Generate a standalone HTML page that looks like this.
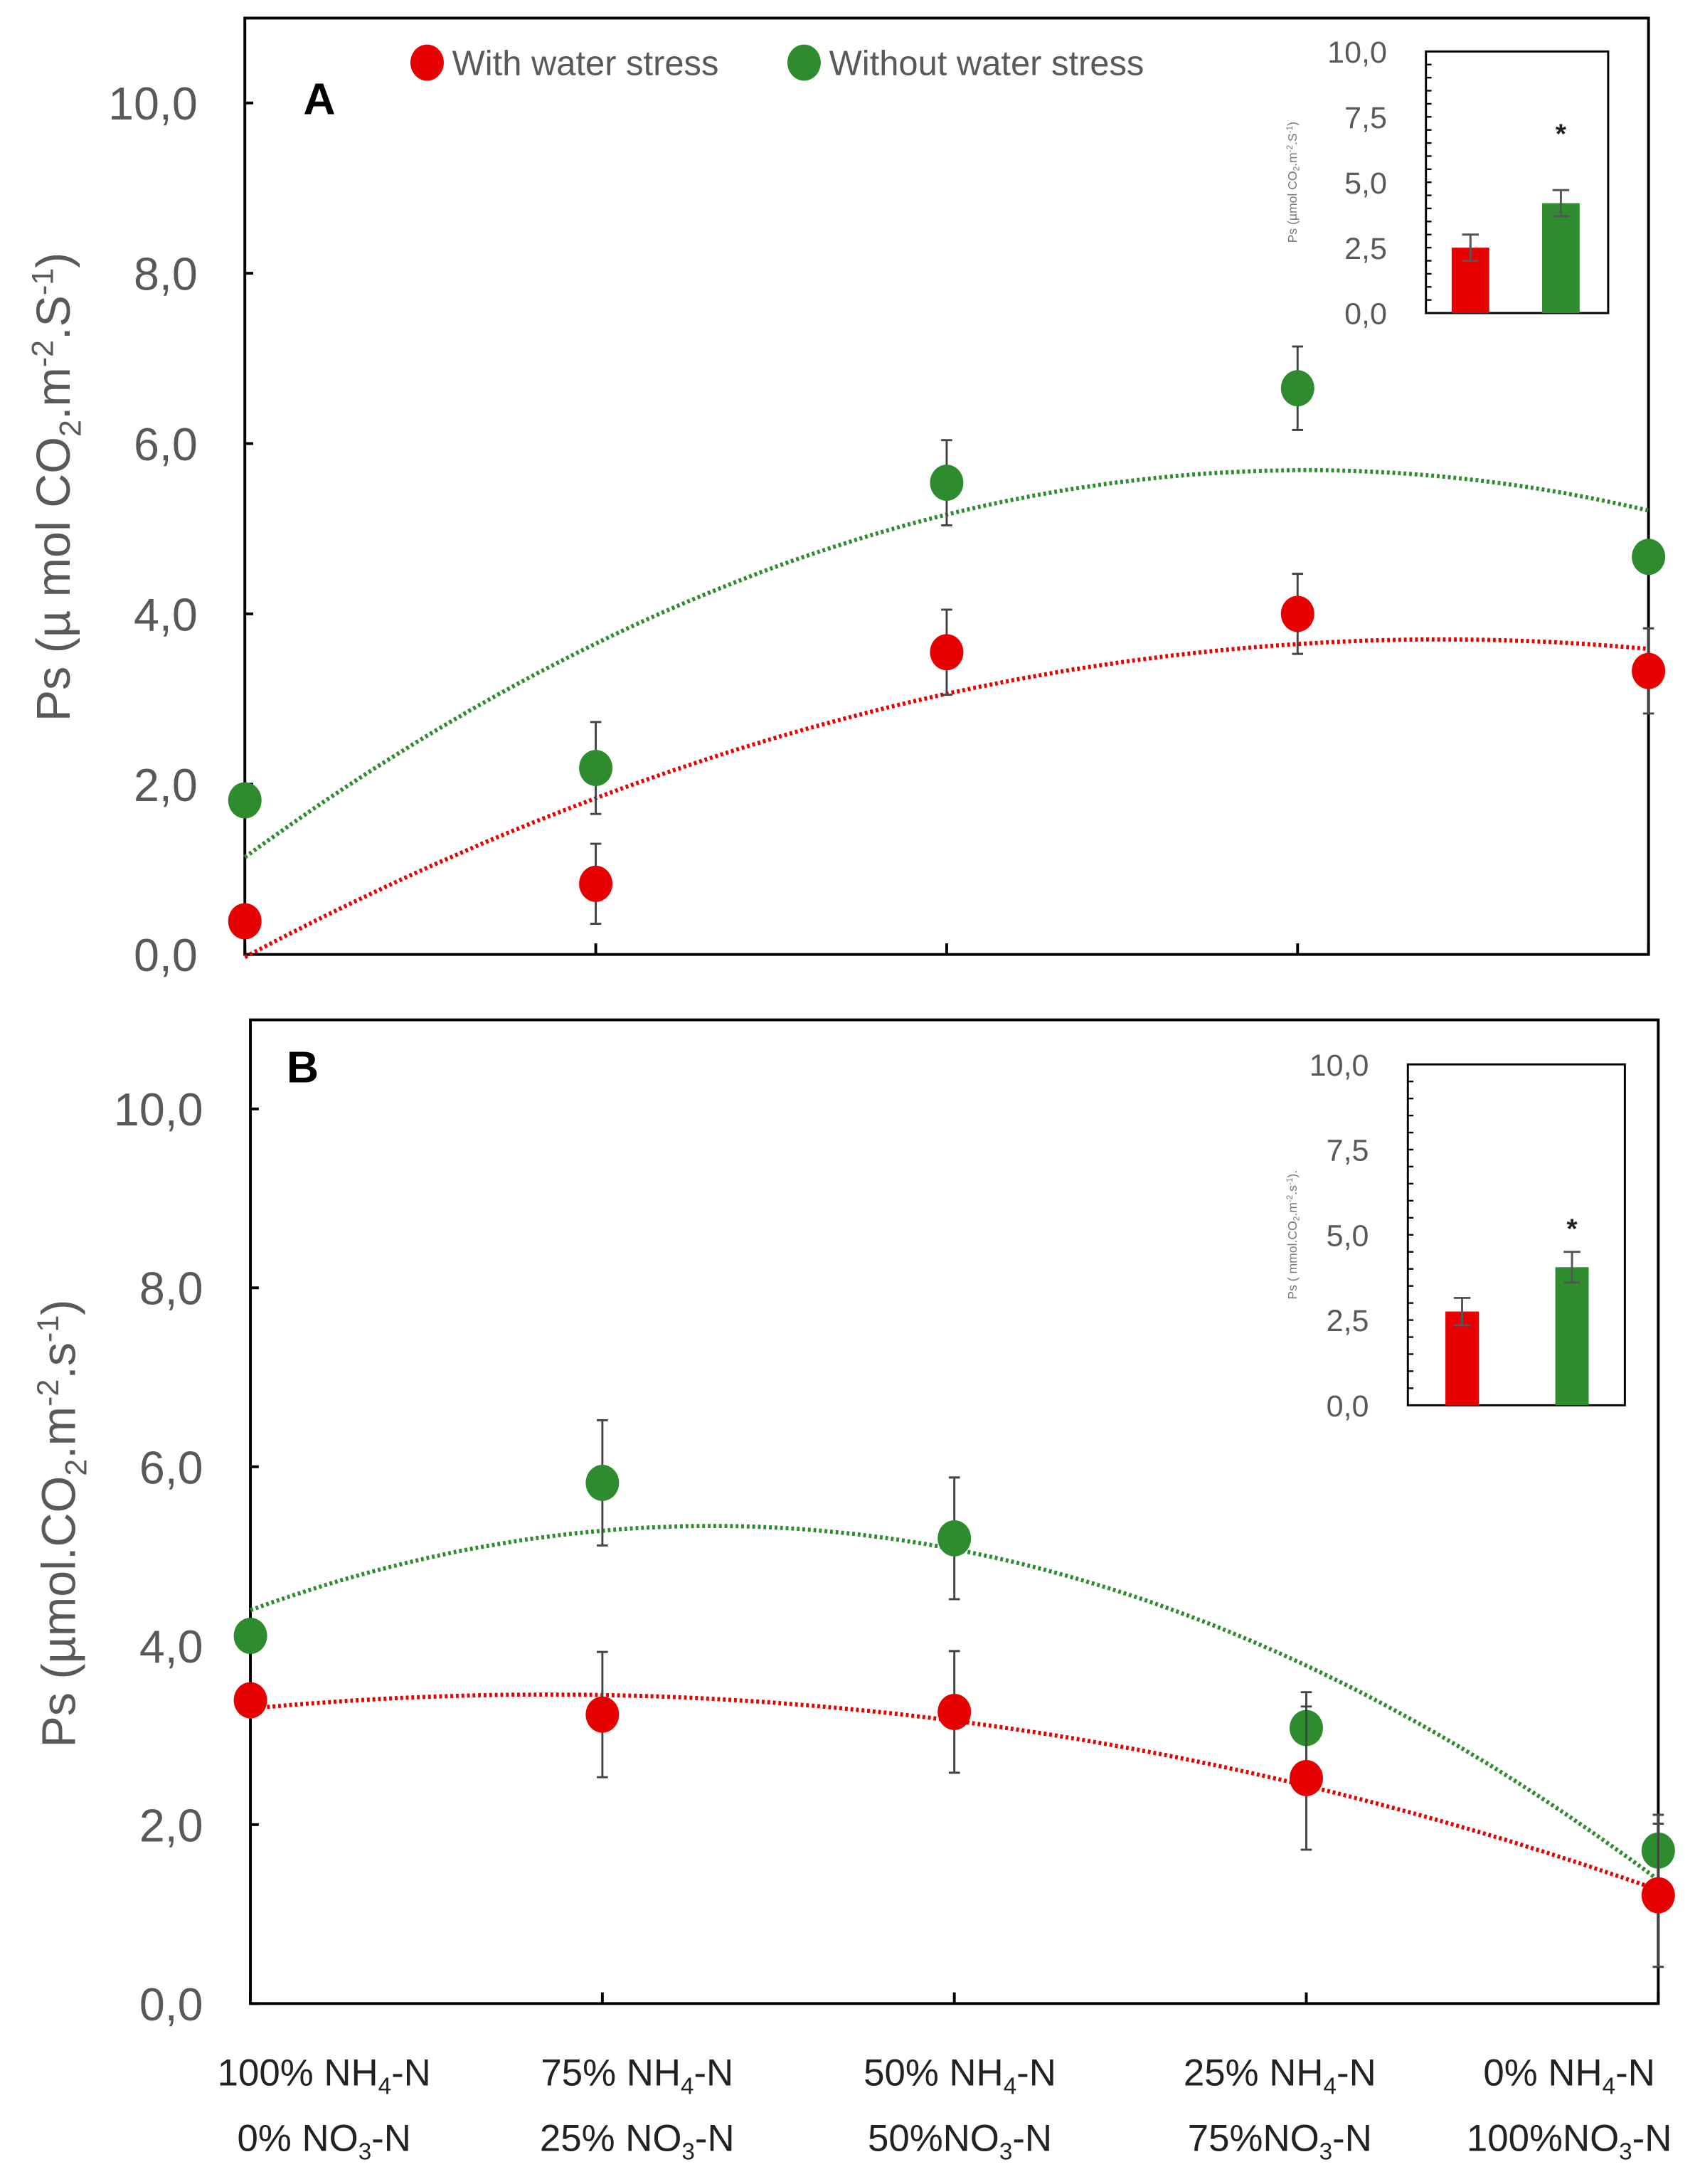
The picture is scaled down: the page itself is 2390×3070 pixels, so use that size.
<!DOCTYPE html>
<html><head><meta charset="utf-8">
<style>
html,body{margin:0;padding:0;background:#fff;}
svg{display:block;}
text{font-family:"Liberation Sans",sans-serif;}
</style></head>
<body>
<svg id="fig" width="2390" height="3070" viewBox="0 0 1222 1569.7" xmlns="http://www.w3.org/2000/svg">
</svg>
<script>
// ---- data ----
const categories = ["100% NH4-N / 0% NO3-N","75% NH4-N / 25% NO3-N","50% NH4-N / 50%NO3-N","25% NH4-N / 75%NO3-N","0% NH4-N / 100%NO3-N"];
const yTicks = [0,2,4,6,8,10];
const yTickLabels = ["0,0","2,0","4,0","6,0","8,0","10,0"];
const insetTicks = [0,2.5,5,7.5,10];
const insetTickLabels = ["0,0","2,5","5,0","7,5","10,0"];
const aStress = [0.39,0.83,3.55,4.0,3.33];
const aStressErr = [0,0.47,0.5,0.47,0.5];
const aNoStress = [1.81,2.19,5.54,6.65,4.67];
const aNoStressErr = [0,0.54,0.5,0.49,0.1];
const bStress = [3.39,3.23,3.26,2.52,1.21];
const bStressErr = [0,0.7,0.68,0.8,0.8];
const bNoStress = [4.11,5.82,5.2,3.08,1.71];
const bNoStressErr = [0,0.7,0.68,0.4,0.4];
const aInsetValues = [2.5,4.2];
const aInsetErr = [0.5,0.5];
const bInsetValues = [2.75,4.05];
const bInsetErr = [0.4,0.45];

const RED="#e60000", GREEN="#2e8b2e";
const NS="http://www.w3.org/2000/svg";
const svg=document.getElementById('fig');
function el(tag,attrs,parent,txt){const e=document.createElementNS(NS,tag);for(const k in attrs)e.setAttribute(k,attrs[k]);if(txt!==undefined)e.textContent=txt;(parent||svg).appendChild(e);return e;}

function quadFit(ys){
  const n=ys.length;let S=[0,0,0,0,0],T=[0,0,0];
  ys.forEach((y,x)=>{for(let k=0;k<5;k++)S[k]+=Math.pow(x,k);for(let k=0;k<3;k++)T[k]+=y*Math.pow(x,k);});
  const M=[[S[0],S[1],S[2],T[0]],[S[1],S[2],S[3],T[1]],[S[2],S[3],S[4],T[2]]];
  for(let i=0;i<3;i++){for(let j=i+1;j<3;j++){const f=M[j][i]/M[i][i];for(let k=i;k<4;k++)M[j][k]-=f*M[i][k];}}
  const r=[0,0,0];for(let i=2;i>=0;i--){let s=M[i][3];for(let k=i+1;k<3;k++)s-=M[i][k]*r[k];r[i]=s/M[i][i];}
  return r;
}

function panel(cfg){
  const g=el('g',{});
  
  
  const xs=i=>cfg.x0+(cfg.x1-cfg.x0)*i/(categories.length-1);
  const ys=v=>cfg.yb-(cfg.yb-cfg.y10)*v/10;
  const fr=el('rect',{x:cfg.x0,y:cfg.top,width:cfg.x1-cfg.x0,height:cfg.yb-cfg.top,fill:'none',stroke:'#000','stroke-width':2},g);
  
  
  yTicks.forEach((t,i)=>{
    el('line',{x1:cfg.x0,x2:cfg.x0+6,y1:ys(t),y2:ys(t),stroke:'#000','stroke-width':2},g);
    const tl=el('text',{x:cfg.x0-34,y:ys(t)+12,'text-anchor':'end','font-size':33,fill:'#595959'},g,yTickLabels[i]);
    
    
  });
  categories.forEach((c,i)=>{el('line',{x1:xs(i),x2:xs(i),y1:cfg.yb,y2:cfg.yb-8,stroke:'#000','stroke-width':2},g);});
  const yt=el('text',{transform:`translate(${cfg.titleX},${cfg.titleY}) rotate(-90)`,'text-anchor':'middle','font-size':34,fill:'#595959'},g);
  
  
  yt.innerHTML=cfg.titleHtml;
  const pl=el('text',{x:cfg.letterX,y:cfg.letterY,'font-size':32,'font-weight':'bold',fill:'#000'},g,cfg.letter);
  
  
  const series=[[cfg.noStress,cfg.noStressErr,GREEN,'without-stress'],[cfg.stress,cfg.stressErr,RED,'with-stress']];
  series.forEach(([vals,errs,col,nm])=>{
    const co=quadFit(vals);let d='';
    for(let k=0;k<=100;k++){const x=(categories.length-1)*k/100;const v=co[0]+co[1]*x+co[2]*x*x;d+=(k?'L':'M')+(cfg.x0+(cfg.x1-cfg.x0)*x/(categories.length-1)).toFixed(1)+','+ys(v).toFixed(1);}
    const tr=el('path',{d:d,fill:'none',stroke:col,'stroke-width':3,'stroke-dasharray':'2 2'},g);
    
    
  });
  series.forEach(([vals,errs,col,nm])=>{
    vals.forEach((v,i)=>{
      if(errs[i]>0){
        const eb=el('path',{d:`M${xs(i)},${ys(v+errs[i])}V${ys(v-errs[i])}M${xs(i)-4},${ys(v+errs[i])}h8M${xs(i)-4},${ys(v-errs[i])}h8`,stroke:'#444','stroke-width':1.5,fill:'none'},g);
        
        
      }
      const p=el('ellipse',{cx:xs(i),cy:ys(v),rx:12,ry:13,fill:col},g);
      
      
    });
  });
  const I=cfg.inset;
  const ig=el('g',{},g);
  
  
  const iy=v=>I.bot-(I.bot-I.top)*v/10;
  el('rect',{x:I.l,y:I.top,width:I.r-I.l,height:I.bot-I.top,fill:'#fff',stroke:'#000','stroke-width':1.5},ig);
  for(let k=0;k<=20;k++){el('line',{x1:I.l,x2:I.l+4,y1:iy(k*0.5),y2:iy(k*0.5),stroke:'#000','stroke-width':1.2},ig);}
  insetTicks.forEach((t,i)=>{
    const tl=el('text',{x:I.l-28,y:iy(t)+8,'text-anchor':'end','font-size':22,fill:'#595959'},ig,insetTickLabels[i]);
    
    
  });
  I.values.forEach((v,i)=>{
    const cx=I.cx[i];
    const b=el('rect',{x:cx-I.bw/2,y:iy(v),width:I.bw,height:iy(0)-iy(v),fill:i?GREEN:RED},ig);
    
    
    const e=I.err[i];
    el('path',{d:`M${cx},${iy(v+e)}V${iy(v-e)}M${cx-6},${iy(v+e)}h12M${cx-6},${iy(v-e)}h12`,stroke:'#555','stroke-width':1.5,fill:'none'},ig);
  });
  const st=el('text',{x:I.cx[1],y:I.starY,'text-anchor':'middle','font-size':20,'font-weight':'bold',fill:'#222'},ig,'*');
  
  
  const it=el('text',{transform:`translate(${I.titleX},${(I.top+I.bot)/2}) rotate(-90)`,'text-anchor':'middle','font-size':9,fill:'#777'},ig);
  
  
  it.innerHTML=I.titleHtml;
}

panel({name:'panel-a',x0:176,x1:1185,top:13,yb:686,y10:74,titleX:50,titleY:350,letter:'A',letterX:218,letterY:82,
  titleHtml:'Ps (µ mol CO<tspan font-size="22" dy="8">2</tspan><tspan dy="-8">.m</tspan><tspan font-size="22" dy="-12">-2</tspan><tspan dy="12">.S</tspan><tspan font-size="22" dy="-12">-1</tspan><tspan dy="12">)</tspan>',
  stress:aStress,stressErr:aStressErr,noStress:aNoStress,noStressErr:aNoStressErr,
  inset:{l:1025,r:1156,top:37,bot:225,cx:[1057,1122],bw:27,values:aInsetValues,err:aInsetErr,starY:103,titleX:932,
    titleHtml:'Ps (µmol CO<tspan font-size="6" dy="2">2</tspan><tspan dy="-2">.m</tspan><tspan font-size="6" dy="-3">-2</tspan><tspan dy="3">.S</tspan><tspan font-size="6" dy="-3">-1</tspan><tspan dy="3">)</tspan>'}});
panel({name:'panel-b',x0:180,x1:1192,top:733,yb:1440,y10:797,titleX:54,titleY:1095,letter:'B',letterX:206,letterY:778,
  titleHtml:'Ps (µmol.CO<tspan font-size="22" dy="8">2</tspan><tspan dy="-8">.m</tspan><tspan font-size="22" dy="-12">-2</tspan><tspan dy="12">.s</tspan><tspan font-size="22" dy="-12">-1</tspan><tspan dy="12">)</tspan>',
  stress:bStress,stressErr:bStressErr,noStress:bNoStress,noStressErr:bNoStressErr,
  inset:{l:1012,r:1168,top:765,bot:1010,cx:[1051,1130],bw:24,values:bInsetValues,err:bInsetErr,starY:890,titleX:932,
    titleHtml:'Ps ( mmol.CO<tspan font-size="6" dy="2">2</tspan><tspan dy="-2">.m</tspan><tspan font-size="6" dy="-3">-2</tspan><tspan dy="3">.s</tspan><tspan font-size="6" dy="-3">-1</tspan><tspan dy="3">).</tspan>'}});

const lg=el('g',{});


[[307,325,'With water stress',RED,'legend-entry-with-stress'],[578,596,'Without water stress',GREEN,'legend-entry-without-stress']].forEach(([cx,tx,t,c,nm])=>{
  const e=el('g',{},lg);
  
  
  el('ellipse',{cx:cx,cy:45,rx:12,ry:13,fill:c},e);
  el('text',{x:tx,y:54,'font-size':25,fill:'#595959'},e,t);
});

const xl1=["100% NH","75% NH","50% NH","25% NH","0% NH"];
const xl2a=["0% NO","25% NO","50%NO","75%NO","100%NO"];
const xcx=[233,458,690,920,1128];
categories.forEach((c,i)=>{
  const t1=el('text',{x:xcx[i],y:1499,'text-anchor':'middle','font-size':27,fill:'#222'});
  
  
  t1.innerHTML=xl1[i]+'<tspan font-size="17" dy="6">4</tspan><tspan dy="-6">-N</tspan>';
  const t2=el('text',{x:xcx[i],y:1546,'text-anchor':'middle','font-size':27,fill:'#222'});
  
  
  t2.innerHTML=xl2a[i]+'<tspan font-size="17" dy="6">3</tspan><tspan dy="-6">-N</tspan>';
});
</script>
</body></html>
